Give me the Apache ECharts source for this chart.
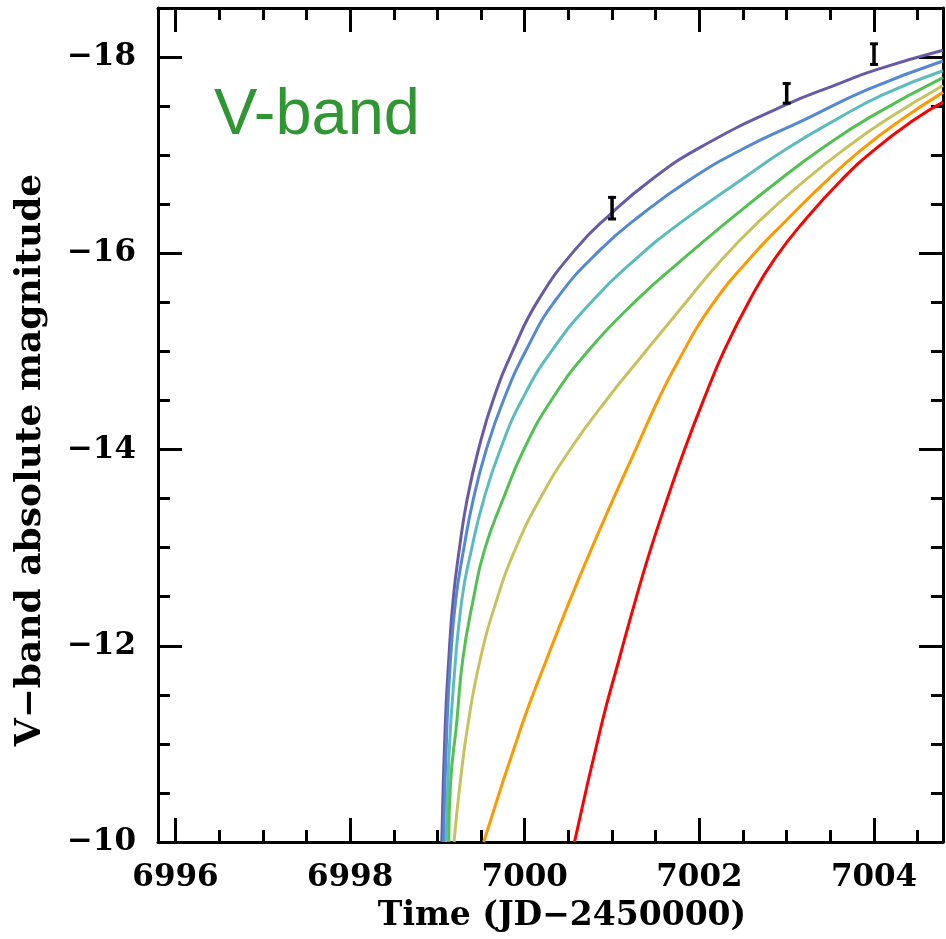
<!DOCTYPE html>
<html>
<head>
<meta charset="utf-8">
<script src="https://cdn.jsdelivr.net/npm/echarts@6/dist/echarts.min.js"></script>
<style>
html,body{margin:0;padding:0;background:#fff;}
#chart{width:946px;height:939px;}
</style>
</head>
<body>
<div id="chart"></div>
<script>
// ---- tick labels ----
const xTickLabels = [6996, 6998, 7000, 7002, 7004];
const yTickLabels = [-18, -16, -14, -12, -10];

// ---- model light curves (time JD-2450000, V-band absolute magnitude) ----
const purpleT = [6999.05, 6999.09, 6999.13, 6999.18, 6999.25, 6999.34, 6999.47, 6999.64, 6999.87, 7000.16, 7000.58, 7000.97, 7001.45, 7002.01, 7002.98, 7003.57, 7004.02, 7004.79];
const purpleM = [-10.00, -11.20, -11.86, -12.47, -12.98, -13.49, -14.00, -14.51, -15.02, -15.53, -16.04, -16.39, -16.75, -17.08, -17.51, -17.72, -17.87, -18.07];

const blueT = [6999.07, 6999.11, 6999.15, 6999.21, 6999.30, 6999.41, 6999.56, 6999.76, 7000.02, 7000.36, 7000.87, 7001.33, 7001.89, 7002.49, 7003.20, 7003.93, 7004.79];
const blueM = [-10.00, -11.20, -11.86, -12.47, -12.98, -13.49, -14.00, -14.51, -15.02, -15.53, -16.04, -16.39, -16.75, -17.06, -17.36, -17.67, -17.96];

const tealT = [6999.10, 6999.13, 6999.18, 6999.28, 6999.39, 6999.53, 6999.72, 6999.97, 7000.32, 7000.79, 7001.27, 7001.75, 7002.48, 7002.99, 7003.56, 7004.11, 7004.79];
const tealM = [-10.00, -10.84, -11.55, -12.47, -12.98, -13.49, -14.00, -14.51, -15.02, -15.53, -15.94, -16.29, -16.75, -17.06, -17.36, -17.62, -17.86];

const greenT = [6999.13, 6999.15, 6999.22, 6999.29, 6999.41, 6999.54, 6999.75, 6999.99, 7000.31, 7000.74, 7001.29, 7001.77, 7002.33, 7002.92, 7003.39, 7003.96, 7004.79];
const greenM = [-10.00, -10.60, -11.21, -11.86, -12.47, -12.98, -13.49, -14.00, -14.51, -15.02, -15.53, -15.91, -16.33, -16.75, -17.06, -17.39, -17.79];

const oliveT = [6999.19, 6999.26, 6999.35, 6999.49, 6999.68, 6999.89, 7000.17, 7000.52, 7000.94, 7001.31, 7001.80, 7002.26, 7002.70, 7003.22, 7003.66, 7004.14, 7004.79];
const oliveM = [-10.00, -10.60, -11.20, -11.86, -12.47, -12.98, -13.49, -14.00, -14.51, -14.92, -15.45, -15.94, -16.34, -16.75, -17.06, -17.36, -17.71];

const orangeT = [6999.53, 6999.97, 7000.25, 7000.52, 7000.76, 7001.01, 7001.27, 7001.53, 7001.75, 7002.11, 7002.57, 7003.00, 7003.47, 7003.86, 7004.31, 7004.79];
const orangeM = [-10.00, -11.20, -11.86, -12.47, -12.98, -13.49, -14.00, -14.51, -14.89, -15.43, -15.94, -16.34, -16.75, -17.06, -17.36, -17.64];

const redT = [7000.57, 7000.88, 7001.08, 7001.27, 7001.44, 7001.63, 7001.83, 7002.05, 7002.29, 7002.58, 7002.86, 7003.21, 7003.63, 7004.01, 7004.46, 7004.79];
const redM = [-10.00, -11.20, -11.86, -12.47, -12.98, -13.49, -14.00, -14.51, -15.02, -15.53, -15.94, -16.34, -16.75, -17.06, -17.36, -17.54];

// ---- observations with error bars ----
const obsT = [7001.0, 7003.0, 7004.0];
const obsM = [-16.46, -17.63, -18.03];
const obsErr = [0.11, 0.10, 0.105];

const curves = [
  {t: purpleT, m: purpleM, color: '#685aa6'},
  {t: blueT, m: blueM, color: '#5388d4'},
  {t: tealT, m: tealM, color: '#5cbcbd'},
  {t: greenT, m: greenM, color: '#52c052'},
  {t: oliveT, m: oliveM, color: '#c8c25e'},
  {t: orangeT, m: orangeM, color: '#ff9900'},
  {t: redT, m: redM, color: '#ff0000'}
];

const chart = echarts.init(document.getElementById('chart'), null, {renderer: 'canvas'});

const tickFont = {fontFamily: '"DejaVu Serif"', fontWeight: 'bold', fontSize: 31, color: '#000'};

function axisBase() {
  return {
    type: 'value',
    axisLine: {show: true, onZero: false, lineStyle: {color: '#000', width: 3}},
    axisTick: {show: true, inside: true, length: 24, lineStyle: {color: '#000', width: 3}},
    minorTick: {show: true, splitNumber: 4, length: 12, lineStyle: {color: '#000', width: 3}},
    splitLine: {show: false},
    minorSplitLine: {show: false}
  };
}

const xMin = 6995.8, xMax = 7004.79;
const yMin = -18.5, yMax = -10;

const series = curves.map(c => ({
  type: 'line',
  xAxisIndex: 0, yAxisIndex: 0,
  data: c.t.map((t, i) => [t, c.m[i]]),
  showSymbol: false,
  smooth: 0.5,
  lineStyle: {color: c.color, width: 3},
  itemStyle: {color: c.color},
  clip: true,
  silent: true,
  z: 3
}));

series.push({
  type: 'custom',
  xAxisIndex: 0, yAxisIndex: 0,
  data: obsT.map((t, i) => [t, obsM[i], obsErr[i]]),
  encode: {x: 0, y: 1},
  z: 5,
  renderItem: function (params, api) {
    const x = api.value(0), m = api.value(1), e = api.value(2);
    const a = api.coord([x, m - e]);
    const b = api.coord([x, m + e]);
    const hw = 4;
    const st = {stroke: '#000', lineWidth: 3.5};
    const cap = {stroke: '#000', lineWidth: 3};
    return {
      type: 'group',
      children: [
        {type: 'line', shape: {x1: a[0], y1: a[1], x2: b[0], y2: b[1]}, style: st},
        {type: 'line', shape: {x1: a[0] - hw, y1: a[1], x2: a[0] + hw, y2: a[1]}, style: cap},
        {type: 'line', shape: {x1: b[0] - hw, y1: b[1], x2: b[0] + hw, y2: b[1]}, style: cap}
      ]
    };
  }
});

const option = {
  animation: false,
  backgroundColor: '#fff',
  grid: {left: 158, right: 1, top: 8, bottom: 97, containLabel: false},
  xAxis: [
    Object.assign(axisBase(), {
      position: 'bottom', min: xMin, max: xMax,
      axisLabel: Object.assign({
        margin: 20,
        formatter: v => xTickLabels.indexOf(Math.round(v * 1000) / 1000) >= 0 ? String(Math.round(v)) : ''
      }, tickFont)
    }),
    Object.assign(axisBase(), {
      position: 'top', min: xMin, max: xMax,
      axisLabel: {show: false}
    })
  ],
  yAxis: [
    Object.assign(axisBase(), {
      position: 'left', min: yMin, max: yMax, inverse: true,
      axisLabel: Object.assign({
        margin: 22,
        formatter: v => yTickLabels.indexOf(Math.round(v * 1000) / 1000) >= 0 ? '\u2212' + Math.abs(Math.round(v)) : ''
      }, tickFont)
    }),
    Object.assign(axisBase(), {
      position: 'right', min: yMin, max: yMax, inverse: true,
      axisLabel: {show: false}
    })
  ],
  graphic: [
    {
      type: 'text', x: 214, y: 116, z: 10,
      style: {text: 'V-band', font: '65px "Liberation Sans"', fill: '#309634', align: 'left', verticalAlign: 'middle'}
    },
    {
      type: 'text', x: 562, y: 916, z: 10,
      style: {text: 'Time (JD\u22122450000)', font: 'bold 33px "DejaVu Serif"', fill: '#000', align: 'center', verticalAlign: 'middle'}
    },
    {
      type: 'text', x: 31, y: 460, rotation: Math.PI / 2, z: 10,
      style: {text: 'V\u2212band absolute magnitude', font: 'bold 36px "DejaVu Serif"', fill: '#000', align: 'center', verticalAlign: 'middle'}
    }
  ],
  series: series
};

chart.setOption(option);
</script>
</body>
</html>
